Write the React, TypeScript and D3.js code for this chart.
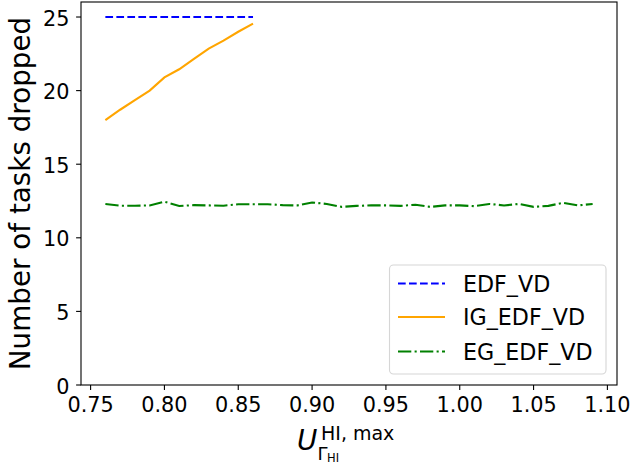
import React from "react";
import * as d3 from "d3";

// x values (utilization) for each series
const xEdf = [0.76, 0.77, 0.78, 0.79, 0.8, 0.81, 0.82, 0.83, 0.84, 0.85, 0.86];
const yEdf = [25, 25, 25, 25, 25, 25, 25, 25, 25, 25, 25];

const xIg = [0.76, 0.77, 0.78, 0.79, 0.8, 0.81, 0.82, 0.83, 0.84, 0.85, 0.86];
const yIg = [18.0, 18.7, 19.35, 20.0, 20.9, 21.45, 22.15, 22.85, 23.4, 24.0, 24.55];

const xEg = [
  0.76, 0.77, 0.78, 0.79, 0.8, 0.81, 0.82, 0.83, 0.84, 0.85, 0.86, 0.87,
  0.88, 0.89, 0.9, 0.91, 0.92, 0.93, 0.94, 0.95, 0.96, 0.97, 0.98, 0.99,
  1.0, 1.01, 1.02, 1.03, 1.04, 1.05, 1.06, 1.07, 1.08, 1.09,
];
const yEg = [
  12.3, 12.18, 12.18, 12.2, 12.45, 12.16, 12.22, 12.2, 12.18, 12.28, 12.28, 12.28,
  12.22, 12.2, 12.4, 12.3, 12.1, 12.17, 12.2, 12.2, 12.17, 12.25, 12.1, 12.2,
  12.2, 12.15, 12.3, 12.2, 12.3, 12.1, 12.17, 12.38, 12.2, 12.3,
];

const xTicks = [0.75, 0.8, 0.85, 0.9, 0.95, 1.0, 1.05, 1.1];
const yTicks = [0, 5, 10, 15, 20, 25];

const seriesNames = ["EDF_VD", "IG_EDF_VD", "EG_EDF_VD"];
const seriesColors = ["#0000ff", "#ffa500", "#008000"];
const seriesDash = ["7.7,3.3", "none", "13.3,3.3,2.1,3.3"];

const font = "DejaVu Sans";

function App() {
  const width = 633;
  const height = 465;
  const left = 81, right = 617, top = 2, bottom = 385;

  const x = d3.scaleLinear().domain([0.7435, 1.1065]).range([left, right]);
  const y = d3.scaleLinear().domain([0, 26.02]).range([bottom, top]);

  const line = d3
    .line<[number, number]>()
    .x((d) => x(d[0]))
    .y((d) => y(d[1]));

  const series = [
    d3.zip(xEdf, yEdf) as [number, number][],
    d3.zip(xIg, yIg) as [number, number][],
    d3.zip(xEg, yEg) as [number, number][],
  ];

  const legX = 389.5, legY = 265, legW = 216.5, legH = 109;
  const rowY = [283.5, 317, 351.5];

  return (
    <svg
      width={width}
      height={height}
      style={{ position: "absolute", left: 0, top: 0, background: "#fff" }}
      fontFamily={font}
    >
      <rect x={0} y={0} width={width} height={height} fill="#fff" />

      {series.map((s, i) => (
        <path
          key={i}
          d={line(s) || ""}
          fill="none"
          stroke={seriesColors[i]}
          strokeWidth={2.1}
          strokeDasharray={seriesDash[i]}
        />
      ))}

      {/* spines */}
      <rect
        x={left}
        y={top}
        width={right - left}
        height={bottom - top}
        fill="none"
        stroke="#000"
        strokeWidth={1.1}
      />

      {/* x ticks */}
      {xTicks.map((t) => (
        <g key={t}>
          <line x1={x(t)} x2={x(t)} y1={bottom} y2={bottom + 4.9} stroke="#000" strokeWidth={1.1} />
          <text x={x(t)} y={412} textAnchor="middle" fontSize={20.8} fill="#000">
            {t.toFixed(2)}
          </text>
        </g>
      ))}

      {/* y ticks */}
      {yTicks.map((t) => (
        <g key={t}>
          <line x1={left - 4.9} x2={left} y1={y(t)} y2={y(t)} stroke="#000" strokeWidth={1.1} />
          <text x={left - 11.5} y={y(t) + 8.5} textAnchor="end" fontSize={20.8} fill="#000">
            {t}
          </text>
        </g>
      ))}

      {/* y label */}
      <text
        transform={`translate(30,${(top + bottom) / 2}) rotate(-90)`}
        textAnchor="middle"
        fontSize={27.8}
        fill="#000"
      >
        Number of tasks dropped
      </text>

      {/* x label: U_{Γ_HI}^{HI, max} */}
      <text x={297} y={450} fontSize={27.8} fontStyle="italic" fill="#000">U</text>
      <text x={321} y={440} fontSize={19} fill="#000">HI, max</text>
      <text x={317.5} y={460} fontSize={18} fill="#000">Γ</text>
      <text x={327} y={462} fontSize={11.5} fill="#000">HI</text>

      {/* legend */}
      <rect
        x={legX}
        y={legY}
        width={legW}
        height={legH}
        rx={4}
        fill="#fff"
        fillOpacity={0.8}
        stroke="#d6d6d6"
        strokeWidth={1.1}
      />
      {seriesNames.map((n, i) => (
        <g key={n}>
          <line
            x1={398}
            x2={445}
            y1={rowY[i]}
            y2={rowY[i]}
            stroke={seriesColors[i]}
            strokeWidth={2.1}
            strokeDasharray={seriesDash[i]}
          />
          <text x={463} y={rowY[i] + 8} fontSize={22.2} fill="#000">
            {n}
          </text>
        </g>
      ))}
    </svg>
  );
}

export default App;
